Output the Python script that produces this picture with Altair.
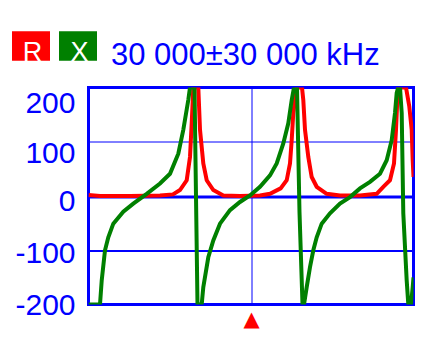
import altair as alt
import pandas as pd

# ---- data ----
series_names = ["R", "X"]
series_colors = ["#ff0000", "#008000"]
y_ticks = [-200, -100, 0, 100, 200]
center_khz = 30000
span_khz = 30000
title_text = "30 000±30 000 kHz"

r_freq = [0, 2123, 7662, 13200, 15600, 16892, 18129, 18738, 19052, 19348,
          20271, 20585, 21194, 21822, 23040, 24886, 27969, 31661, 33508, 35471,
          36591, 37200, 37514, 37809, 38437, 39415, 39655, 39969, 40578, 41206,
          42129, 43975, 46431, 50123, 53206, 54425, 55662, 56400, 56769, 57009,
          57138, 58615, 59225, 59668, 59852, 60000]
r_val = [2, 0, 0, 1, 3, 11, 29, 72, 134, 200,
         200, 122, 60, 29, 11, 1, 0, 1, 4, 14,
         29, 60, 103, 153, 200, 200, 177, 122, 72, 35,
         17, 4, 1, 1, 4, 17, 29, 60, 122, 177,
         200, 200, 165, 122, 66, 35]

x_freq = [0, 2123, 2437, 3046, 3655, 4578, 6424, 8270, 10744, 13200,
          15046, 16578, 17500, 18423, 18738, 19569, 20123, 20898, 21194, 22117,
          23040, 24277, 26123, 27969, 29815, 31661, 33508, 34745, 35963, 36886,
          37514, 37938, 38492, 38954, 39508, 39785, 40283, 40892, 41502, 42129,
          43052, 44585, 46431, 48277, 50123, 51969, 53815, 55052, 55975, 56585,
          56898, 57194, 57508, 57822, 58117, 58745, 59040, 59538, 59852, 60000]
x_val = [-200, -200, -156, -100, -76, -51, -29, -14, 4, 23,
         41, 78, 122, 177, 200, 200, -200, -200, -168, -113,
         -82, -51, -26, -11, 1, 17, 38, 60, 97, 134,
         177, 200, 200, -30, -200, -200, -168, -131, -100, -76,
         -51, -32, -14, -2, 14, 26, 41, 66, 103, 153,
         190, 200, 200, 153, -32, -156, -200, -200, -168, -150]

df = pd.concat([
    pd.DataFrame({"f": r_freq, "v": r_val, "s": "R"}),
    pd.DataFrame({"f": x_freq, "v": x_val, "s": "X"}),
], ignore_index=True)

BLUE = "#0000ff"
FONT = "Liberation Sans"

# legend swatch: a stack of thick horizontal strokes forming a filled box
# (shifted up so the letter sits on the box's bottom edge)
_n = 15
_top, _bot = -20.0, 6.5
_ys = [(_top + k * (_bot - _top) / (_n - 1)) / 19.0 for k in range(_n)]
swatch_path = " ".join(f"M-1,{y:.4f}L1,{y:.4f}" for y in _ys)

chart = alt.Chart(df).mark_line(clip=True).encode(
    x=alt.X(
        "f:Q",
        scale=alt.Scale(domain=[center_khz - span_khz, center_khz + span_khz], nice=False, zero=False),
        axis=alt.Axis(values=[center_khz], grid=True, gridColor=BLUE, gridWidth=1,
                      domain=False, ticks=False, labelExpr="'▲'", labelColor="#ff0000",
                      labelFont="DejaVu Sans", labelFontSize=21, labelPadding=4,
                      labelFlush=False, title=None),
    ),
    y=alt.Y(
        "v:Q",
        scale=alt.Scale(domain=[-200, 200], nice=False),
        axis=alt.Axis(
            values=y_ticks, grid=True, gridColor=BLUE,
            gridWidth={"condition": [{"test": "datum.value == 0", "value": 3},
                                     {"test": "datum.value == -100", "value": 2}],
                       "value": 1},
            domain=False, ticks=False, labelColor=BLUE, labelFont=FONT,
            labelFontSize=30, labelPadding=13.5, labelExpr="'' + datum.value",
            labelOffset={"condition": [{"test": "datum.value == 200", "value": 16},
                                       {"test": "datum.value == 100", "value": 12},
                                       {"test": "datum.value == 0", "value": 5},
                                       {"test": "datum.value == -100", "value": 3}],
                         "value": 1},
            title=None),
    ),
    color=alt.Color(
        "s:N",
        scale=alt.Scale(domain=series_names, range=series_colors),
        legend=alt.Legend(
            orient="none", legendX=-78, legendY=-55.5, direction="horizontal",
            columns=2, title=None, symbolType=swatch_path, symbolSize=1444,
            symbolStrokeWidth=3, symbolOpacity=1, labelColor="white", labelFont=FONT,
            labelFontSize=27, labelAlign="center", labelOffset={"expr": "-19"},
            columnPadding={"expr": "-4"}, padding=0),
    ),
    strokeWidth=alt.value(4),
).properties(
    width=325,
    height=217,
    title=alt.Title(title_text, anchor="start", frame="group", dx=22.5, dy=64, offset=0,
                    baseline="alphabetic", color=BLUE, font=FONT, fontSize=31,
                    fontWeight="normal", orient="top"),
    autosize=alt.AutoSizeParams(type="none"),
    padding={"left": 88.5, "top": 87.5, "right": 27.5, "bottom": 59.5},
    background="white",
).configure_view(stroke=BLUE, strokeWidth=3)

chart.save("out.html", embed_options={"renderer": "svg", "actions": False})
